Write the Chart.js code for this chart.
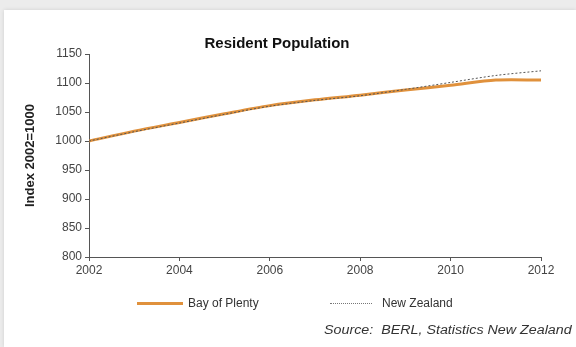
<!DOCTYPE html>
<html>
<head>
<meta charset="utf-8">
<script src="https://cdn.jsdelivr.net/npm/chart.js@4.4.1/dist/chart.umd.min.js"></script>
<style>
  html, body { margin: 0; padding: 0; }
  body { width: 576px; height: 347px; background: #ececec; position: relative; overflow: hidden;
         font-family: "Liberation Sans", Arial, sans-serif; }
  #panel { position: absolute; left: 4px; top: 10px; width: 572px; height: 337px; background: #fff;
           box-shadow: 0 0 4px rgba(0,0,0,0.12); }
  #wrap { position: absolute; left: 0; top: 0; width: 576px; height: 347px; }
  #title { position: absolute; top: 34px; left: 0; width: 554px; text-align: center;
           font-weight: bold; font-size: 15px; color: #111; }
  .legend { position: absolute; top: 296px; font-size: 12px; color: #333; white-space: nowrap; }
  .legend .sw { display: inline-block; vertical-align: middle; width: 46px; margin-right: 5px; }
  #src { position: absolute; top: 323px; left: 324px; font-size: 12px; font-style: italic; color: #333;
         white-space: nowrap; transform: scaleX(1.19); transform-origin: left center; }
</style>
</head>
<body>
<div id="panel"></div>
<div id="wrap"><canvas id="chart" width="576" height="347"></canvas></div>
<div id="title">Resident Population</div>
<div class="legend" style="left:137px"><span class="sw" style="border-top:3px solid #e0913c"></span>Bay of Plenty</div>
<div class="legend" style="left:330px"><span class="sw" style="width:42px;border-top:1px dotted #777;margin-right:10px"></span>New Zealand</div>
<div id="src">Source:&nbsp; BERL, Statistics New Zealand</div>
<script>
// yearly index values, 2002 = 1000
const YEARS = [2002, 2003, 2004, 2005, 2006, 2007, 2008, 2009, 2010, 2011, 2012];
const BAY_OF_PLENTY = [1000, 1017, 1032, 1047, 1061, 1071, 1079, 1088, 1096, 1105, 1105];
const NEW_ZEALAND   = [1000, 1016, 1031, 1046, 1060, 1070, 1078, 1089, 1101, 1113, 1121];
const X_TICKS = [2002, 2004, 2006, 2008, 2010, 2012];
const Y_TICKS = [800, 850, 900, 950, 1000, 1050, 1100, 1150];

const toPts = vals => vals.map((v, i) => ({ x: YEARS[i], y: v }));
const tickFont = { family: '"Liberation Sans", Arial, sans-serif', size: 12 };

new Chart(document.getElementById('chart'), {
  type: 'line',
  data: {
    datasets: [
      {
        label: 'New Zealand',
        data: toPts(NEW_ZEALAND),
        borderColor: '#555',
        borderWidth: 1,
        borderDash: [2, 2],
        pointRadius: 0,
        tension: 0.3,
        order: 0,
      },
      {
        label: 'Bay of Plenty',
        data: toPts(BAY_OF_PLENTY),
        borderColor: '#e0913c',
        borderWidth: 3,
        pointRadius: 0,
        tension: 0.3,
        order: 1,
      },
    ],
  },
  options: {
    responsive: false,
    animation: false,
    layout: { padding: { top: 54, right: 35, bottom: 0, left: 23 } },
    plugins: { legend: { display: false }, tooltip: { enabled: false } },
    scales: {
      x: {
        type: 'linear',
        min: 2002, max: 2012,
        afterFit: s => { s.height = 90; },
        afterBuildTicks: s => { s.ticks = X_TICKS.map(v => ({ value: v })); },
        grid: { drawOnChartArea: false, tickLength: 4, color: '#555' },
        border: { color: '#555', width: 1 },
        ticks: { font: tickFont, color: '#444', padding: 2, callback: v => String(v), maxRotation: 0 },
      },
      y: {
        min: 800, max: 1150,
        afterFit: s => { s.width = 66; },
        afterBuildTicks: s => { s.ticks = Y_TICKS.map(v => ({ value: v })); },
        grid: { drawOnChartArea: false, tickLength: 4, color: '#555' },
        border: { color: '#555', width: 1 },
        ticks: { font: tickFont, color: '#444', padding: 3, callback: v => String(v) },
        title: {
          display: true,
          text: 'Index 2002=1000',
          font: { family: '"Liberation Sans", Arial, sans-serif', size: 13, weight: 'bold' },
          color: '#222',
          padding: { top: 0, bottom: 4 },
        },
      },
    },
  },
});
</script>
</body>
</html>
